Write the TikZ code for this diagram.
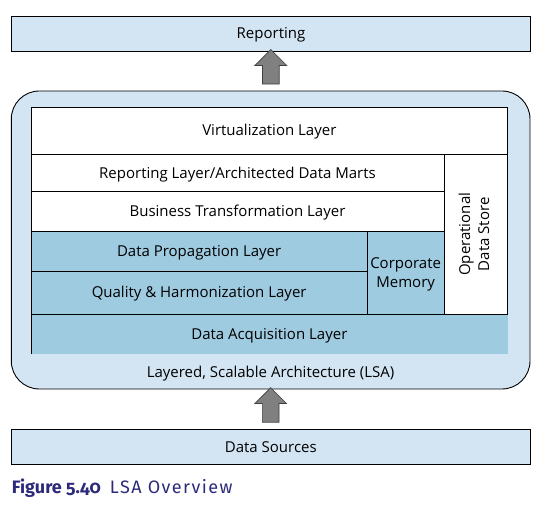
\documentclass[tikz,border=0pt]{standalone}
\usepackage{fontspec}
\setmainfont{Open Sans}
\newfontfamily\capfont[Numbers=OldStyle]{Fira Sans}
\usepackage{xcolor}
\usetikzlibrary{positioning,calc,shapes.arrows}
\definecolor{lsalight}{RGB}{211,228,242}
\definecolor{lsamid}{RGB}{159,203,225}
\definecolor{capblue}{RGB}{46,42,122}
\tikzstyle{oneline}=[text height=10.7pt, text depth=0pt]
\tikzstyle{outer}=[rectangle, draw=black, fill=lsalight, line width=0.9pt, oneline,
  inner sep=0pt, outer sep=0pt, anchor=north west, font=\fontsize{15}{19}\selectfont]
\tikzstyle{layer}=[rectangle, draw=black, fill=white, line width=0.9pt,
  inner sep=0pt, outer sep=0pt, anchor=north west, align=center, font=\fontsize{15}{19}\selectfont]
\tikzstyle{dark}=[layer, fill=lsamid]
\tikzstyle{bigarrow}=[single arrow, rotate=90, draw=black!75, fill=black!50,
  line width=0.7pt, inner xsep=0pt, inner ysep=8pt, minimum height=34.5pt,
  single arrow head extend=7.5pt]

\begin{document}
\begin{tikzpicture}[x=1pt,y=-1pt]
\useasboundingbox (0,0) rectangle (542,521);
\node (rep) [outer, minimum width=519.4pt, minimum height=35pt] at (11.3,16) {Reporting};
\node (lsa) [outer, rounded corners=28pt, minimum width=518.7pt, minimum height=298pt] at (11.3,91) {};
\node (src) [outer, minimum width=519pt, minimum height=35pt] at (11.3,429.3) {Data Sources};
% layers inside the LSA frame
\node (virt) [layer, oneline, minimum width=476.7pt, minimum height=47.3pt] at (31,107) {Virtualization Layer};
\node (rl) [layer, oneline, minimum width=413pt, minimum height=37.4pt] at (virt.south west) {Reporting Layer/Architected Data Marts};
\node (ods) [layer, minimum width=63.7pt, minimum height=160pt] at (rl.north east)
  {\rotatebox{90}{\begin{tabular}{@{}c@{}}Operational\\Data Store\end{tabular}}};
\node (bt) [layer, oneline, minimum width=413pt, minimum height=39.3pt] at (rl.south west) {Business Transformation Layer};
\node (dp) [dark, oneline, minimum width=336.3pt, minimum height=40pt] at (bt.south west) {Data Propagation Layer};
\node (qh) [dark, oneline, minimum width=336.3pt, minimum height=43.3pt] at (dp.south west) {Quality \& Harmonization Layer};
\node (cm) [dark, text height=29.7pt, text depth=0pt, minimum width=76.7pt, minimum height=83.3pt] at (dp.north east) {Corporate\\Memory};
\node (acq) [dark, oneline, draw=none, minimum width=476.7pt, minimum height=40pt] at (qh.south west) {Data Acquisition Layer};
\draw[line width=0.9pt] (acq.north west) -- (acq.north east);
\draw[line width=0.9pt] (virt.north west) -- (acq.south west);
\node (lsatxt) [oneline, font=\fontsize{15}{19}\selectfont] at (270.6,372.5) {Layered, Scalable Architecture (LSA)};
% flow arrows
\node (up1) [bigarrow] at ($(rep.south)!0.5!(lsa.north)$) {};
\node (up2) [bigarrow] at ($(lsa.south)!0.5!(src.north)$) {};
\node (cap) [anchor=base west, inner sep=0pt, text=capblue] at (11.7,493.3)
  {\capfont\fontsize{18}{21}\selectfont\textbf{Figure 5.40}\hspace{0.5em}{\addfontfeatures{LetterSpace=8}LSA Overview}};
\end{tikzpicture}
\end{document}
